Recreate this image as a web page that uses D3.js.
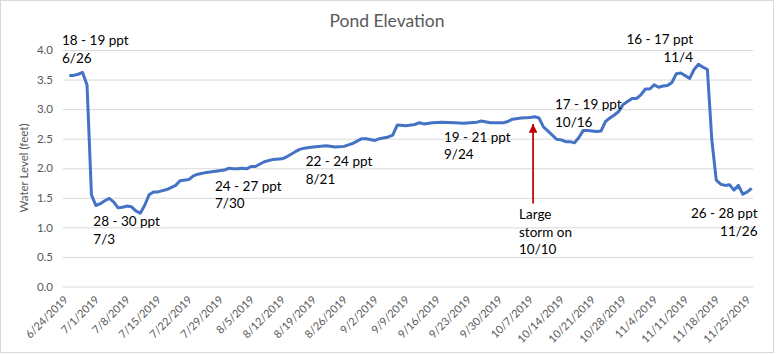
<!DOCTYPE html>
<html><head><meta charset="utf-8">
<script src="https://cdn.jsdelivr.net/npm/d3@7"></script>
<style>body{margin:0;background:#fff}svg{display:block}text{font-family:Lato,"Open Sans",sans-serif}</style>
</head><body><div id="chart"></div>
<script>
// ---- data ----
const dates = ["6/24/2019","6/25/2019","6/26/2019","6/27/2019","6/28/2019","6/29/2019","6/30/2019",
"7/1/2019","7/2/2019","7/3/2019","7/4/2019","7/5/2019","7/6/2019","7/7/2019","7/8/2019","7/9/2019","7/10/2019",
"7/11/2019","7/12/2019","7/13/2019","7/14/2019","7/16/2019","7/18/2019","7/19/2019","7/21/2019","7/22/2019",
"7/23/2019","7/25/2019","7/27/2019","7/29/2019","7/30/2019","7/31/2019","8/1/2019","8/2/2019","8/3/2019",
"8/4/2019","8/5/2019","8/7/2019","8/9/2019","8/11/2019","8/12/2019","8/14/2019","8/15/2019","8/16/2019",
"8/18/2019","8/21/2019","8/23/2019","8/25/2019","8/27/2019","8/29/2019","8/30/2019","9/1/2019","9/2/2019",
"9/4/2019","9/5/2019","9/6/2019","9/8/2019","9/10/2019","9/11/2019","9/12/2019","9/14/2019","9/16/2019",
"9/19/2019","9/21/2019","9/24/2019","9/25/2019","9/27/2019","9/30/2019","10/1/2019","10/2/2019","10/4/2019",
"10/6/2019","10/7/2019","10/8/2019","10/9/2019","10/11/2019","10/12/2019","10/13/2019","10/14/2019",
"10/15/2019","10/16/2019","10/17/2019","10/18/2019","10/19/2019","10/21/2019","10/22/2019","10/23/2019",
"10/24/2019","10/25/2019","10/26/2019","10/27/2019","10/29/2019","10/30/2019","10/31/2019","11/1/2019",
"11/2/2019","11/3/2019","11/4/2019","11/5/2019","11/6/2019","11/7/2019","11/8/2019","11/9/2019","11/11/2019",
"11/12/2019","11/13/2019","11/14/2019","11/15/2019","11/16/2019","11/17/2019","11/18/2019","11/19/2019",
"11/20/2019","11/21/2019","11/22/2019","11/23/2019","11/24/2019","11/25/2019"];
const waterLevel = [3.57,3.57,3.59,3.62,3.41,1.55,1.37,
1.40,1.45,1.49,1.43,1.33,1.34,1.36,1.35,1.28,1.24,
1.37,1.55,1.60,1.60,1.64,1.71,1.79,1.81,1.87,
1.90,1.93,1.95,1.97,2.00,1.99,1.99,2.00,1.99,
2.03,2.03,2.11,2.15,2.16,2.19,2.28,2.32,2.34,
2.36,2.38,2.36,2.37,2.42,2.50,2.50,2.47,2.50,
2.53,2.56,2.73,2.72,2.74,2.77,2.75,2.77,2.78,
2.77,2.76,2.78,2.80,2.77,2.77,2.79,2.83,2.85,
2.86,2.87,2.85,2.70,2.56,2.49,2.48,2.45,
2.45,2.43,2.52,2.64,2.64,2.62,2.63,2.79,
2.85,2.90,2.96,3.08,3.18,3.18,3.24,3.34,
3.34,3.41,3.37,3.39,3.40,3.45,3.60,3.61,3.52,
3.67,3.76,3.71,3.67,2.48,1.80,1.73,1.71,
1.72,1.63,1.71,1.56,1.60,1.66];
const tickLabels = ["6/24/2019","7/1/2019","7/8/2019","7/15/2019","7/22/2019","7/29/2019","8/5/2019",
"8/12/2019","8/19/2019","8/26/2019","9/2/2019","9/9/2019","9/16/2019","9/23/2019","9/30/2019","10/7/2019",
"10/14/2019","10/21/2019","10/28/2019","11/4/2019","11/11/2019","11/18/2019","11/25/2019"];
const yTicks = [0,0.5,1,1.5,2,2.5,3,3.5,4];
const salinityNotes = [
  {date:"6/24/2019", lines:["18 - 19 ppt","6/26"]},
  {date:"7/30/2019", lines:["24 - 27 ppt","7/30"]},
  {date:"7/3/2019",  lines:["28 - 30 ppt","7/3"]},
  {date:"8/21/2019", lines:["22 - 24 ppt","8/21"]},
  {date:"9/24/2019", lines:["19 - 21 ppt","9/24"]},
  {date:"10/16/2019",lines:["17 - 19 ppt","10/16"]},
  {date:"11/4/2019", lines:["16 - 17 ppt","11/4"]},
  {date:"11/26/2019",lines:["26 - 28 ppt","11/26"]}
];
const stormNote = {date:"10/7/2019", lines:["Large","storm on","10/10"]};

// ---- layout ----
const W = 776, H = 355;
const plot = {left:63, right:753, top:50, bottom:286.5};
const parse = d3.timeParse("%m/%d/%Y");
const data = dates.map((d,i)=>({date:parse(d), v:waterLevel[i]}));

const x = d3.scaleTime().domain([parse("6/24/2019"), parse("11/25/2019")]).range([69.3, 751.7]);
const y = d3.scaleLinear().domain([0,4]).range([plot.bottom, plot.top]);

const svg = d3.select("#chart").append("svg").attr("width",W).attr("height",H);
svg.append("rect").attr("x",0.5).attr("y",0.5).attr("width",773).attr("height",352)
  .attr("fill","#fff").attr("stroke","#d9d9d9");

svg.append("text").attr("x",387).attr("y",27).attr("text-anchor","middle")
  .attr("font-size",17.5).attr("fill","#595959").text("Pond Elevation");

// gridlines + y labels
const yAxis = d3.axisLeft(y).tickValues(yTicks).tickFormat(d3.format(".1f"))
  .tickSize(-(plot.right-plot.left)).tickPadding(10);
const gy = svg.append("g").attr("transform",`translate(${plot.left},0)`).call(yAxis);
gy.select(".domain").remove();
gy.selectAll(".tick line").attr("stroke","#d9d9d9").attr("stroke-width",1);
gy.selectAll(".tick text").attr("font-size",11.5).attr("fill","#595959").attr("font-family","Lato");

svg.append("text").attr("transform",`translate(28,168) rotate(-90)`).attr("text-anchor","middle")
  .attr("font-size",11.5).attr("fill","#595959").text("Water Level (feet)");

// x axis labels
const xAxis = d3.axisBottom(x).tickValues(tickLabels.map(parse))
  .tickFormat((d,i)=>tickLabels[i]).tickSize(0).tickPadding(0);
const gx = svg.append("g").attr("transform",`translate(0,${plot.bottom})`).call(xAxis);
gx.select(".domain").remove();
gx.selectAll(".tick text").attr("font-size",11).attr("fill","#595959").attr("font-family","Lato")
  .attr("text-anchor","end").attr("dy",0)
  .attr("transform","translate(-1,14) rotate(-45)");

// line
svg.append("path").datum(data).attr("fill","none").attr("stroke","#4472C4")
  .attr("stroke-width",3).attr("stroke-linejoin","round")
  .attr("d", d3.line().x(d=>x(d.date)).y(d=>y(d.v)));

// annotations (text boxes)
const notePos = [
  {x:62, y:45, anchor:"start"},
  {x:215, y:190.7, anchor:"start"},
  {x:93.3, y:226, anchor:"start"},
  {x:305.7, y:166, anchor:"start"},
  {x:444, y:141.7, anchor:"start"},
  {x:555, y:109, anchor:"start"},
  {x:693, y:44.3, anchor:"end"},
  {x:757.5, y:218.3, anchor:"end"}
];
salinityNotes.forEach((n,i)=>{
  const p = notePos[i];
  const t = svg.append("text").attr("x",p.x).attr("y",p.y).attr("text-anchor",p.anchor)
    .attr("font-size",13.5).attr("fill","#000");
  n.lines.forEach((l,j)=>t.append("tspan").attr("x",p.x).attr("dy",j?17.6:0).text(l));
});
const st = svg.append("text").attr("x",519).attr("y",219).attr("font-size",13.5).attr("fill","#000");
stormNote.lines.forEach((l,j)=>st.append("tspan").attr("x",519).attr("dy",j?17.6:0).text(l));

// storm arrow
const ax = x(parse(stormNote.date)) - 1.5;
svg.append("defs").append("marker").attr("id","ah").attr("viewBox","0 0 10 10")
  .attr("refX",10).attr("refY",5).attr("markerWidth",5).attr("markerHeight",5)
  .attr("markerUnits","strokeWidth").attr("orient","auto")
  .append("path").attr("d","M0,0 L10,5 L0,10 z").attr("fill","#C00000");
svg.append("line").attr("x1",ax).attr("x2",ax).attr("y1",203.5).attr("y2",124)
  .attr("stroke","#C00000").attr("stroke-width",1.75).attr("marker-end","url(#ah)");
</script></body></html>
